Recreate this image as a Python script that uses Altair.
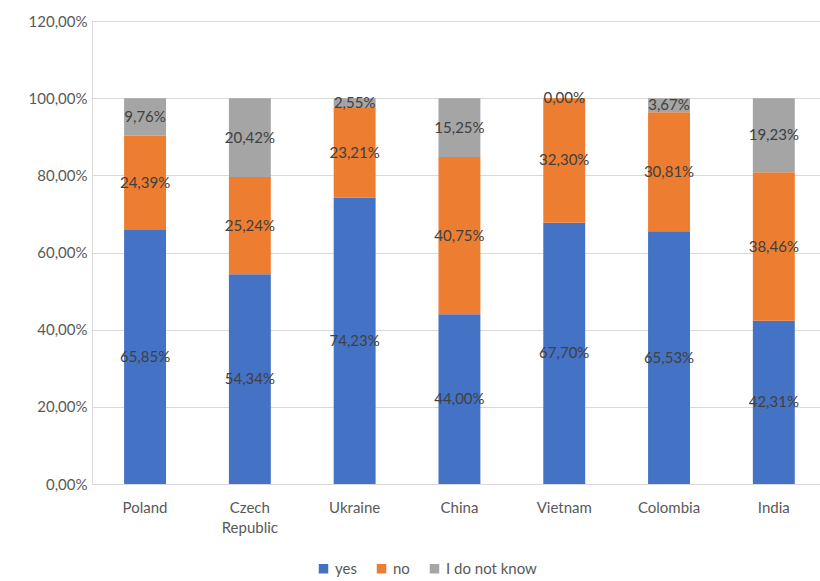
import altair as alt
import pandas as pd

countries = ["Poland", "Czech Republic", "Ukraine", "China", "Vietnam", "Colombia", "India"]
yes_vals = [65.85, 54.34, 74.23, 44.00, 67.70, 65.53, 42.31]
no_vals = [24.39, 25.24, 23.21, 40.75, 32.30, 30.81, 38.46]
dk_vals = [9.76, 20.42, 2.55, 15.25, 0.00, 3.67, 19.23]
series = ["yes", "no", "I do not know"]
colors = ["#4472C4", "#ED7D31", "#A5A5A5"]

rows = []
for i, c in enumerate(countries):
    for k, (s, vals) in enumerate(zip(series, [yes_vals, no_vals, dk_vals])):
        rows.append({"country": c, "series": s, "value": vals[i], "ord": k})
df = pd.DataFrame(rows)

FONT = "Lato"

base = alt.Chart(df).transform_stack(
    stack="value", groupby=["country"], sort=[alt.SortField("ord")], as_=["v0", "v1"]
).transform_calculate(
    mid="(datum.v0 + datum.v1) / 2",
    lbl="replace(format(datum.value, '.2f'), '.', ',') + '%'",
)

xscale = alt.Scale(paddingInner=0.6, paddingOuter=0.2735, align=0.56)
yscale = alt.Scale(domain=[0, 120], nice=False)

xaxis = alt.Axis(
    title=None,
    labelAngle=0,
    ticks=False,
    grid=False,
    domainColor="#D9D9D9",
    labelColor="#595959",
    labelFont=FONT,
    labelFontSize=15,
    labelPadding=16,
    labelExpr="datum.label == 'Czech Republic' ? ['Czech', 'Republic'] : datum.label",
    labelLineHeight=20,
)
yaxis = alt.Axis(
    title=None,
    values=[0, 20, 40, 60, 80, 100, 120],
    domain=False,
    ticks=False,
    gridColor="#D9D9D9",
    labelColor="#595959",
    labelFont=FONT,
    labelFontSize=15,
    labelPadding=5,
    labelExpr="replace(format(datum.value, '.2f'), '.', ',') + '%'",
)

bars = base.mark_bar().encode(
    x=alt.X("country:N", sort=countries, scale=xscale, axis=xaxis),
    y=alt.Y("v0:Q", scale=yscale, axis=yaxis),
    y2="v1:Q",
    color=alt.Color(
        "series:N",
        sort=series,
        scale=alt.Scale(domain=series, range=colors),
        legend=alt.Legend(
            title=None,
            orient="none",
            legendX=224,
            legendY=540,
            direction="horizontal",
            symbolType="square",
            symbolSize=90,
            symbolStrokeWidth=0,
            labelFont=FONT,
            labelFontSize=15,
            labelColor="#595959",
            columnPadding=17,
            labelOffset=4,
        ),
    ),
    order=alt.Order("ord:Q"),
)

texts = base.mark_text(font=FONT, fontSize=15, color="#404040").encode(
    x=alt.X("country:N", sort=countries, scale=xscale, axis=xaxis),
    y=alt.Y("mid:Q", scale=yscale, axis=yaxis),
    text="lbl:N",
)

chart = (
    alt.layer(bars, texts)
    .properties(
        width=728,
        height=463,
        autosize=alt.AutoSizeParams(type="none"),
        padding={"left": 92, "top": 21, "right": 0, "bottom": 97},
    )
    .configure_view(strokeWidth=0, stroke="transparent")
    .configure_axisY(domain=False)
    .configure_axisX(grid=False)
    .configure(background="white")
)

chart.save("out.html", embed_options={"renderer": "svg", "actions": False})
